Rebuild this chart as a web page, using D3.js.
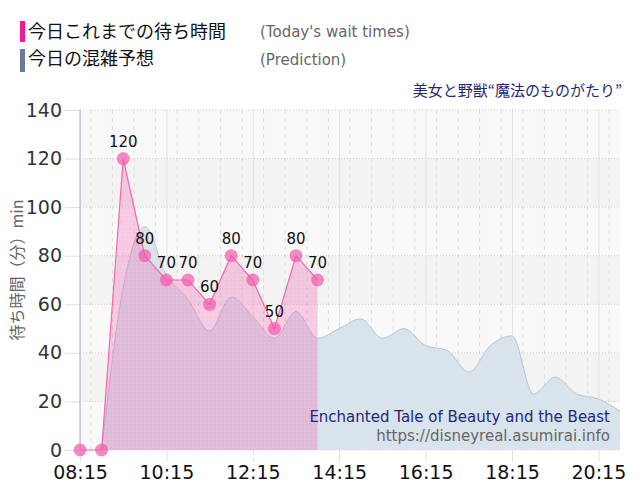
<!DOCTYPE html>
<html>
<head>
<meta charset="utf-8">
<script src="https://cdn.jsdelivr.net/npm/d3@7"></script>
<style>
  body { margin: 0; background: #fff; }
  svg { display: block; }
  .jp { font-family: "Noto Sans CJK JP", sans-serif; }
  .lat { font-family: "DejaVu Sans", Verdana, sans-serif; }
</style>
</head>
<body>
<div id="chart"></div>
<script>
// today's actual wait times (every 30 min)
var waitTimes = ["08:15", "08:45", "09:15", "09:45", "10:15", "10:45", "11:15", "11:45", "12:15", "12:45", "13:15", "13:45"];
var waitValues = [0, 0, 120, 80, 70, 70, 60, 80, 70, 50, 80, 70];

// prediction curve
var predTimes = ["08:45", "09:15", "09:45", "10:15", "10:45", "11:15", "11:45", "12:15", "12:45", "13:15", "13:45",
  "14:15", "14:45", "15:15", "15:45", "16:15", "16:45", "17:15", "17:45", "18:15", "18:45", "19:15", "19:45", "20:15", "20:45"];
var predValues = [0, 67, 92, 72, 62, 49, 63, 55, 46, 57, 46,
  50, 54, 46, 50, 43, 41, 32, 43, 47, 23, 30, 23, 21, 16];

var xTickLabels = ["08:15", "10:15", "12:15", "14:15", "16:15", "18:15", "20:15"];
var yTickValues = [0, 20, 40, 60, 80, 100, 120, 140];

var W = 640, H = 500;
var margin = { top: 110, right: 20, bottom: 50, left: 80 };
var width = W - margin.left - margin.right;
var height = H - margin.top - margin.bottom;

var parse = d3.timeParse("%H:%M");
var fmt = d3.timeFormat("%H:%M");

var wait = waitTimes.map(function(t, i) { return { t: parse(t), v: waitValues[i] }; });
var pred = predTimes.map(function(t, i) { return { t: parse(t), v: predValues[i] }; });

var x = d3.scaleTime().domain([parse("08:15"), parse("20:45")]).range([0, width]);
var y = d3.scaleLinear().domain([0, 140]).range([height, 0]);

var svg = d3.select("#chart").append("svg")
  .attr("width", W).attr("height", H);

var defs = svg.append("defs");
var pat = defs.append("pattern")
  .attr("id", "dots").attr("width", 4).attr("height", 4)
  .attr("patternUnits", "userSpaceOnUse");
pat.append("rect").attr("width", 4).attr("height", 4).attr("fill", "rgba(240,80,170,0.28)");
pat.append("circle").attr("cx", 1).attr("cy", 1).attr("r", 0.6).attr("fill", "rgba(255,255,255,0.35)");

// legend
var legend = svg.append("g");
legend.append("rect").attr("x", 20).attr("y", 21).attr("width", 5).attr("height", 21).attr("fill", "#ee1c8e");
legend.append("rect").attr("x", 20).attr("y", 49).attr("width", 5).attr("height", 23).attr("fill", "#6b789f");
legend.append("text").attr("class", "jp").attr("x", 28).attr("y", 38)
  .style("font-size", "18px").attr("fill", "#111").text("今日これまでの待ち時間");
legend.append("text").attr("class", "jp").attr("x", 28).attr("y", 65)
  .style("font-size", "18px").attr("fill", "#111").text("今日の混雑予想");
legend.append("text").attr("class", "lat").attr("x", 260).attr("y", 37)
  .style("font-size", "15px").attr("fill", "#666").text("(Today's wait times)");
legend.append("text").attr("class", "lat").attr("x", 260).attr("y", 65)
  .style("font-size", "15px").attr("fill", "#666").text("(Prediction)");

svg.append("text").attr("class", "jp").attr("x", 622).attr("y", 96)
  .attr("text-anchor", "end").style("font-size", "15px").attr("fill", "#1f2878")
  .text("美女と野獣“魔法のものがたり”");

var g = svg.append("g").attr("transform", "translate(" + margin.left + "," + margin.top + ")");

// background bands
var bands = d3.range(0, 140, 20);
g.selectAll(".band").data(bands).enter().append("rect")
  .attr("x", 0).attr("width", width)
  .attr("y", function(d) { return y(d + 20); })
  .attr("height", function(d) { return y(d) - y(d + 20); })
  .attr("fill", function(d, i) { return i % 2 ? "#f3f3f3" : "#f9f9f9"; });

// minor vertical grid (every 30 min)
var minor = d3.timeMinute.every(30).range(parse("08:15"), parse("20:46"));
g.selectAll(".vminor").data(minor).enter().append("line")
  .attr("x1", function(d) { return x(d); }).attr("x2", function(d) { return x(d); })
  .attr("y1", 0).attr("y2", height)
  .attr("stroke", "#dcdcdc").attr("stroke-dasharray", "4,4");

// horizontal grid
g.selectAll(".hgrid").data(yTickValues).enter().append("line")
  .attr("x1", 0).attr("x2", width)
  .attr("y1", function(d) { return y(d); }).attr("y2", function(d) { return y(d); })
  .attr("stroke", "#cfcfcf").attr("stroke-dasharray", "1,2");

// x axis with long ticks as major grid
var xAxis = d3.axisBottom(x)
  .tickValues(xTickLabels.map(parse))
  .tickFormat(fmt)
  .tickSize(height + 12)
  .tickPadding(4);
var xg = g.append("g").call(xAxis);
xg.select(".domain").remove();
xg.selectAll("line").attr("stroke", "#e2e2e2");
xg.selectAll("text").attr("class", "lat").style("font-size", "19px").attr("fill", "#111");

var yAxis = d3.axisLeft(y).tickValues(yTickValues).tickSize(15).tickPadding(3);
var yg = g.append("g").call(yAxis);
yg.select(".domain").remove();
yg.selectAll("line").attr("stroke", "#dddddd");
yg.selectAll("text").attr("class", "lat").style("font-size", "19px").attr("fill", "#333");

g.append("line").attr("x1", 0).attr("x2", 0).attr("y1", 0).attr("y2", height)
  .attr("stroke", "#b0b0c0");

// prediction area
var predArea = d3.area().curve(d3.curveMonotoneX)
  .x(function(d) { return x(d.t); }).y0(y(0)).y1(function(d) { return y(d.v); });
var predLine = d3.line().curve(d3.curveMonotoneX)
  .x(function(d) { return x(d.t); }).y(function(d) { return y(d.v); });
g.append("path").datum(pred).attr("d", predArea).attr("fill", "#d9e3eb");
g.append("path").datum(pred).attr("d", predLine).attr("fill", "none").attr("stroke", "#b9c6d3");

// actual wait area
var waitArea = d3.area()
  .x(function(d) { return x(d.t); }).y0(y(0)).y1(function(d) { return y(d.v); });
var waitLine = d3.line()
  .x(function(d) { return x(d.t); }).y(function(d) { return y(d.v); });
g.append("path").datum(wait).attr("d", waitArea).attr("fill", "url(#dots)");
g.append("path").datum(wait).attr("d", waitLine).attr("fill", "none").attr("stroke", "#f06aaf").attr("stroke-width", 1.2);

g.selectAll(".dot").data(wait).enter().append("circle")
  .attr("cx", function(d) { return x(d.t); }).attr("cy", function(d) { return y(d.v); })
  .attr("r", 6.5).attr("fill", "rgba(240,90,170,0.7)");

g.selectAll(".lbl").data(wait.filter(function(d) { return d.v > 0; })).enter().append("text")
  .attr("class", "lat")
  .attr("x", function(d) { return x(d.t); }).attr("y", function(d) { return y(d.v) - 12; })
  .attr("text-anchor", "middle").style("font-size", "15px").attr("fill", "#111")
  .text(function(d) { return d.v; });

// watermark texts
g.append("text").attr("class", "lat").attr("x", 530).attr("y", 312)
  .attr("text-anchor", "end").style("font-size", "15px").attr("fill", "#23287a")
  .text("Enchanted Tale of Beauty and the Beast");
g.append("text").attr("class", "lat").attr("x", 530).attr("y", 331)
  .attr("text-anchor", "end").style("font-size", "15px").attr("fill", "#666")
  .text("https://disneyreal.asumirai.info");

// y axis title
svg.append("text").attr("class", "jp")
  .attr("transform", "translate(23,270) rotate(-90)")
  .attr("text-anchor", "middle").style("font-size", "16px").attr("fill", "#666")
  .text("待ち時間（分）min");
</script>
</body>
</html>
